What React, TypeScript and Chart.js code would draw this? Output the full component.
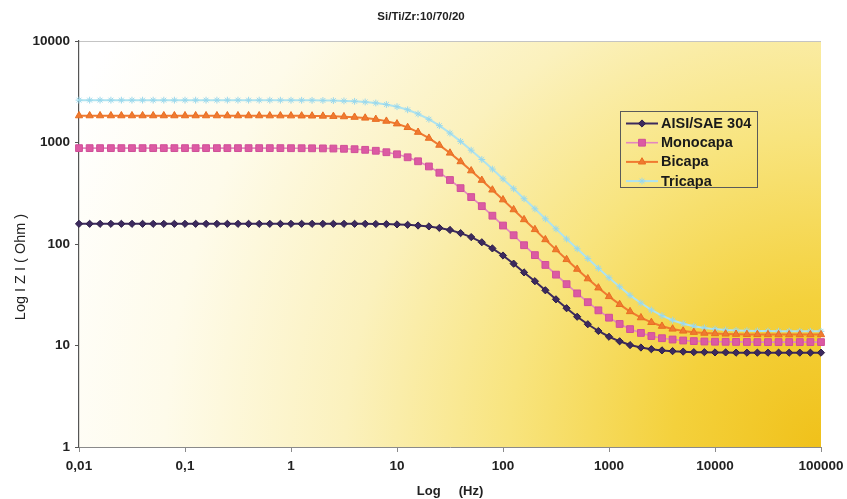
import React, { useEffect, useRef } from 'react';
import { Chart, registerables } from 'chart.js';
import { drawPoint } from 'chart.js/helpers';

Chart.register(...registerables);

// ---- data ----
const frequencies = [
  0.01, 0.0126, 0.0158, 0.02, 0.0251, 0.0316, 0.0398, 0.0501, 0.0631, 0.0794,
  0.1, 0.126, 0.158, 0.2, 0.251, 0.316, 0.398, 0.501, 0.631, 0.794,
  1, 1.26, 1.58, 2, 2.51, 3.16, 3.98, 5.01, 6.31, 7.94,
  10, 12.6, 15.8, 20, 25.1, 31.6, 39.8, 50.1, 63.1, 79.4,
  100, 126, 158, 200, 251, 316, 398, 501, 631, 794,
  1000, 1260, 1580, 2000, 2510, 3160, 3980, 5010, 6310, 7940,
  10000, 12600, 15800, 20000, 25100, 31600, 39800, 50100, 63100, 79400,
  100000,
];

const aisiSae304 = [
  158, 158, 158, 158, 158, 158, 158, 158, 158, 158,
  158, 158, 158, 158, 158, 158, 158, 158, 158, 158,
  158, 158, 158, 158, 158, 158, 158, 158, 157.5, 157,
  156, 154.5, 152, 149, 144, 137.5, 128, 117, 104, 90.5,
  77, 64, 52.5, 43, 35, 28.5, 23.3, 19.2, 16.2, 13.9,
  12.2, 11, 10.1, 9.55, 9.2, 8.95, 8.8, 8.7, 8.6, 8.6,
  8.55, 8.55, 8.5, 8.5, 8.5, 8.5, 8.5, 8.5, 8.5, 8.5,
  8.5,
];

const monocapa = [
  880, 880, 880, 880, 880, 880, 880, 880, 880, 880,
  880, 880, 880, 880, 880, 880, 880, 880, 880, 880,
  879, 878.5, 877, 875, 872, 867, 859, 847, 829, 802,
  765, 715, 653, 581, 504, 427, 355, 290, 236, 190,
  152, 122, 97.3, 77.7, 62.2, 49.9, 40.2, 32.6, 26.7, 22.2,
  18.8, 16.3, 14.5, 13.3, 12.4, 11.8, 11.45, 11.2, 11.05, 10.95,
  10.9, 10.87, 10.85, 10.83, 10.8, 10.8, 10.8, 10.8, 10.8, 10.8,
  10.8,
];

const bicapa = [
  1838, 1838, 1838, 1838, 1838, 1838, 1838, 1838, 1838, 1838,
  1838, 1838, 1838, 1838, 1838, 1838, 1838, 1838, 1836, 1835,
  1834, 1831, 1828, 1822, 1812, 1798, 1776, 1743, 1694, 1624,
  1529, 1408, 1263, 1104, 942, 788, 648, 527, 425, 341,
  273, 218, 174, 139, 110.5, 88, 70.4, 56.5, 45.5, 37,
  30.4, 25.4, 21.6, 18.8, 16.9, 15.5, 14.55, 13.9, 13.5, 13.25,
  13.1, 13, 12.92, 12.87, 12.85, 12.83, 12.8, 12.8, 12.8, 12.8,
  12.8,
];

const tricapa = [
  2614, 2614, 2614, 2614, 2614, 2614, 2614, 2614, 2614, 2614,
  2614, 2614, 2614, 2614, 2614, 2614, 2614, 2614, 2612, 2611,
  2609, 2607, 2602, 2596, 2586, 2570, 2545, 2507, 2450, 2368,
  2253, 2100, 1912, 1695, 1465, 1238, 1026, 840, 680, 547,
  438, 350, 279, 222, 177, 141, 112, 89.7, 71.8, 57.6,
  46.5, 37.9, 31.2, 26.2, 22.4, 19.7, 17.75, 16.4, 15.5, 14.9,
  14.5, 14.24, 14.08, 13.98, 13.91, 13.87, 13.85, 13.83, 13.82, 13.81,
  13.8,
];

const seriesNames = ['AISI/SAE 304', 'Monocapa', 'Bicapa', 'Tricapa'];

const xTickValues = [0.01, 0.1, 1, 10, 100, 1000, 10000, 100000];
const xTickLabels = ['0,01', '0,1', '1', '10', '100', '1000', '10000', '100000'];
const yTickValues = [1, 10, 100, 1000, 10000];
const yTickLabels = ['1', '10', '100', '1000', '10000'];

const chartTitle = 'Si/Ti/Zr:10/70/20';
const xAxisTitle = 'Log     (Hz)';
const yAxisTitle = 'Log I Z I ( Ohm )';

// ---- styles ----
const FONT = '"Liberation Sans", Arial, Helvetica, sans-serif';
const seriesStyles = [
  { line: '#3c2a5e', fill: '#3c2a5e', border: '#2e1f4a', pointStyle: 'rectRot', radius: 3.6, lineWidth: 2 },
  { line: '#e486bf', fill: '#dc5aa3', border: '#d04f98', pointStyle: 'rect', radius: 4.8, lineWidth: 1.6 },
  { line: '#f07a30', fill: '#f07a30', border: '#e86e22', pointStyle: 'triangle', radius: 4.2, lineWidth: 2 },
  { line: '#aee3f0', fill: '#aee3f0', border: '#9ad8ec', pointStyle: 'star', radius: 3.4, lineWidth: 2 },
];
const seriesValues = [aisiSae304, monocapa, bicapa, tricapa];

const backgroundPlugin = {
  id: 'plotBackground',
  beforeDraw(chart: any) {
    const { ctx, chartArea } = chart;
    const { left, top, right, bottom } = chartArea;
    ctx.save();
    const g = ctx.createRadialGradient(right, bottom, 0, right, bottom, 820);
    g.addColorStop(0, '#f0c11a');
    g.addColorStop(0.18, '#f4d13c');
    g.addColorStop(0.38, '#f8e47e');
    g.addColorStop(0.58, '#fbf1bd');
    g.addColorStop(0.8, '#fefbea');
    g.addColorStop(1, '#ffffff');
    ctx.fillStyle = g;
    ctx.fillRect(left, top, right - left, bottom - top);
    ctx.strokeStyle = '#c4c4c4';
    ctx.lineWidth = 1;
    ctx.beginPath();
    ctx.moveTo(left, top + 0.5);
    ctx.lineTo(right, top + 0.5);
    ctx.stroke();
    ctx.restore();
  },
};

const overlayPlugin = {
  id: 'overlayTexts',
  afterDraw(chart: any) {
    const { ctx } = chart;
    ctx.save();
    // title
    ctx.fillStyle = '#222';
    ctx.font = `bold 11.5px ${FONT}`;
    ctx.textAlign = 'center';
    ctx.textBaseline = 'middle';
    ctx.fillText(chartTitle, 421, 17);

    // y axis title
    ctx.save();
    ctx.translate(21, 267);
    ctx.rotate(-Math.PI / 2);
    ctx.font = `14.5px ${FONT}`;
    ctx.fillStyle = '#222';
    ctx.fillText(yAxisTitle, 0, 0);
    ctx.restore();

    // legend
    const bx = 620.5, by = 111.5, bw = 137, bh = 76;
    ctx.strokeStyle = '#5a5a5a';
    ctx.lineWidth = 1;
    ctx.strokeRect(bx, by, bw, bh);
    ctx.font = `bold 14.5px ${FONT}`;
    ctx.textAlign = 'left';
    ctx.textBaseline = 'middle';
    seriesNames.forEach((name, i) => {
      const st = seriesStyles[i];
      const y = 123.5 + i * 19.2;
      ctx.strokeStyle = st.line;
      ctx.lineWidth = st.lineWidth;
      ctx.beginPath();
      ctx.moveTo(626, y);
      ctx.lineTo(658, y);
      ctx.stroke();
      ctx.fillStyle = st.fill;
      ctx.strokeStyle = st.border;
      ctx.lineWidth = 1;
      drawPoint(ctx, { pointStyle: st.pointStyle, rotation: 0, radius: st.radius, borderWidth: 1 }, 642, y);
      ctx.fillStyle = '#1a1a1a';
      ctx.fillText(name, 661, y + 0.5);
    });
    ctx.restore();
  },
};

export default function App() {
  const canvasRef = useRef<HTMLCanvasElement | null>(null);

  useEffect(() => {
    const canvas = canvasRef.current;
    if (!canvas) return;
    const datasets = seriesNames.map((name, i) => {
      const st = seriesStyles[i];
      return {
        label: name,
        data: frequencies.map((f, k) => ({ x: f, y: seriesValues[i][k] })),
        borderColor: st.line,
        borderWidth: st.lineWidth,
        backgroundColor: st.fill,
        pointStyle: st.pointStyle,
        pointRadius: st.radius,
        pointBackgroundColor: st.fill,
        pointBorderColor: st.border,
        pointBorderWidth: 1,
        tension: 0,
        fill: false,
        clip: false,
      };
    });

    const chart = new Chart(canvas, {
      type: 'line',
      data: { datasets: datasets as any },
      plugins: [backgroundPlugin, overlayPlugin],
      options: {
        responsive: false,
        animation: false,
        devicePixelRatio: 1,
        events: [],
        layout: { padding: { top: 41, right: 26, left: 0, bottom: 0 } },
        plugins: {
          legend: { display: false },
          title: { display: false },
          tooltip: { enabled: false },
        },
        scales: {
          x: {
            type: 'logarithmic',
            position: 'bottom',
            min: 0.01,
            max: 100000,
            afterBuildTicks: (s: any) => {
              s.ticks = xTickValues.map((v) => ({ value: v }));
            },
            afterFit: (s: any) => {
              s.height = 52;
              s.paddingRight = 0;
              s.paddingLeft = 0;
            },
            grid: { display: true, drawOnChartArea: false, drawTicks: true, tickLength: 5, color: '#8a8a8a' },
            border: { display: true, color: '#8a8a8a', width: 1 },
            ticks: {
              autoSkip: false,
              maxRotation: 0,
              minRotation: 0,
              padding: 6,
              color: '#222',
              font: { family: FONT, size: 13.5, weight: 'bold' },
              callback: (_v: any, idx: number) => xTickLabels[idx],
            },
            title: {
              display: true,
              text: xAxisTitle,
              color: '#222',
              font: { family: FONT, size: 13, weight: 'bold' },
              padding: { top: 0, bottom: 0 },
            },
          },
          y: {
            type: 'logarithmic',
            position: 'left',
            min: 1,
            max: 10000,
            afterBuildTicks: (s: any) => {
              s.ticks = yTickValues.map((v) => ({ value: v }));
            },
            afterFit: (s: any) => {
              s.width = 79;
              s.paddingTop = 0;
              s.paddingBottom = 0;
            },
            grid: { display: true, drawOnChartArea: false, drawTicks: true, tickLength: 4, color: '#555' },
            border: { display: true, color: '#555', width: 1.2 },
            ticks: {
              autoSkip: false,
              padding: 5,
              color: '#222',
              font: { family: FONT, size: 13.5, weight: 'bold' },
              callback: (_v: any, idx: number) => yTickLabels[idx],
            },
          },
        },
      } as any,
    });
    return () => chart.destroy();
  }, []);

  return (
    <div style={{ position: 'fixed', left: 0, top: 0, width: 847, height: 499, background: '#fff' }}>
      <canvas ref={canvasRef} width={847} height={499} style={{ width: 847, height: 499, display: 'block' }} />
    </div>
  );
}
